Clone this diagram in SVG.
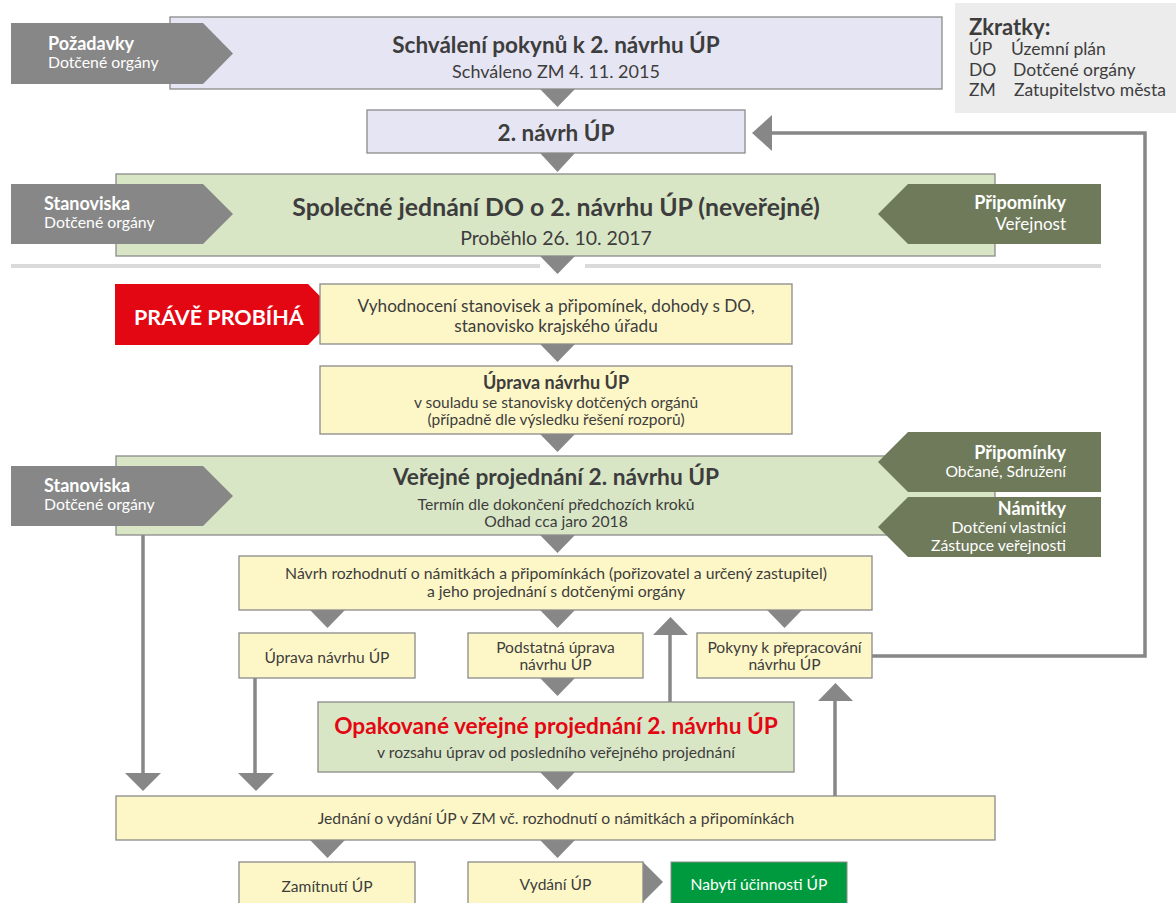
<svg xmlns="http://www.w3.org/2000/svg" width="1176" height="903" viewBox="0 0 1176 903">
<style>
text{font-family:Lato,"Open Sans","Liberation Sans",sans-serif;fill:#3d3d3d}
.c{text-anchor:middle}
.b{font-weight:bold}
.lav{fill:#e6e5f3;stroke:#8a8a8a;stroke-width:1.3}
.grn{fill:#d9e6c6;stroke:#8a8a8a;stroke-width:1.3}
.yel{fill:#fdf7c7;stroke:#8a8a8a;stroke-width:1.3}
.gr{fill:#878787}
.dg{fill:#6f7a5b}
.line{stroke:#878787;stroke-width:3.5;fill:none}
.wt{fill:#ffffff}
.r{text-anchor:end}
</style>
<rect width="1176" height="903" fill="#ffffff"/>

<g id="legend">
<rect x="955" y="3" width="221" height="110" fill="#ececec"/>
<text x="969" y="35" font-size="22" class="b">Zkratky:</text>
<text x="969" y="55" font-size="17.5">ÚP</text><text x="1011" y="55" font-size="17.5">Územní plán</text>
<text x="969" y="76" font-size="17.5">DO</text><text x="1013" y="76" font-size="17.5">Dotčené orgány</text>
<text x="969" y="96" font-size="17.5">ZM</text><text x="1014" y="96" font-size="17.5">Zatupitelstvo města</text>
</g>

<g id="separator">
<rect x="11" y="264" width="529" height="4" fill="#dadada"/>
<rect x="585" y="264" width="516" height="4" fill="#dadada"/>
</g>

<g id="connectors">
<polygon class="gr" points="540,89 575,89 557.5,107"/>
<polygon class="gr" points="540,153 575,153 557.5,172"/>
<polygon class="gr" points="540,256 575,256 557.5,274"/>
<polygon class="gr" points="540,344 575,344 557.5,362"/>
<polygon class="gr" points="540,434 575,434 557.5,452"/>
<polygon class="gr" points="540,535 575,535 557.5,553"/>
<polygon class="gr" points="310,610 345,610 327.5,628"/>
<polygon class="gr" points="540,610 575,610 557.5,628"/>
<polygon class="gr" points="767,610 802,610 784.5,628"/>
<polygon class="gr" points="540,678 575,678 557.5,696"/>
<polygon class="gr" points="540,772 575,772 557.5,790"/>
<polygon class="gr" points="310,840 345,840 327.5,858"/>
<polygon class="gr" points="540,840 575,840 557.5,858"/>
<polygon class="gr" points="643,862 663,882 643,902"/>
<polyline class="line" points="872,656 1145,656 1145,133 771,133"/>
<polygon class="gr" points="772,115 772,151 752,133"/>
<line class="line" x1="143" y1="535" x2="143" y2="775"/>
<polygon class="gr" points="125,773 161,773 143,791"/>
<line class="line" x1="255" y1="678" x2="255" y2="775"/>
<polygon class="gr" points="238,773 274,773 256,791"/>
<line class="line" x1="670" y1="634" x2="670" y2="702"/>
<polygon class="gr" points="653,635 688,635 670.5,617"/>
<line class="line" x1="835" y1="700" x2="835" y2="796"/>
<polygon class="gr" points="818,701 853,701 835.5,683"/>
</g>

<g id="n-schvaleni">
<rect class="lav" x="170" y="17" width="772" height="72"/>
<text class="c b" x="556" y="53" font-size="22.5">Schválení pokynů k 2. návrhu ÚP</text>
<text class="c" x="556" y="78" font-size="18">Schváleno ZM 4. 11. 2015</text>
</g>
<g id="n-pozadavky">
<polygon class="gr" points="11,23 203,23 233,53.5 203,84 11,84"/>
<text x="48" y="50" font-size="18" class="b wt">Požadavky</text>
<text x="48" y="68" font-size="15.8" class="wt">Dotčené orgány</text>
</g>

<g id="n-navrh2">
<rect class="lav" x="367" y="110" width="378" height="43"/>
<text class="c b" x="556" y="141" font-size="22.5">2. návrh ÚP</text>
</g>

<g id="n-spolecne">
<rect class="grn" x="116" y="174" width="879" height="82"/>
<text class="c b" x="556" y="216" font-size="24.8">Společné jednání DO o 2. návrhu ÚP (neveřejné)</text>
<text class="c" x="556" y="245" font-size="19.5">Proběhlo 26. 10. 2017</text>
</g>
<g id="n-stanoviska1">
<polygon class="gr" points="11,184 203,184 233,214 203,244 11,244"/>
<text x="44" y="210" font-size="18" class="b wt">Stanoviska</text>
<text x="44" y="228" font-size="15.8" class="wt">Dotčené orgány</text>
</g>
<g id="n-pripominky1">
<polygon class="dg" points="1101,184 908,184 878,214 908,244 1101,244"/>
<text x="1066" y="209" font-size="18" class="b wt r">Připomínky</text>
<text x="1066" y="230" font-size="17" class="wt r">Veřejnost</text>
</g>

<g id="n-prave">
<polygon points="115,284 308,284 338,314.5 308,345 115,345" fill="#e30613"/>
<text x="134" y="325" font-size="21.5" class="b wt">PRÁVĚ PROBÍHÁ</text>
</g>
<g id="n-vyhodnoceni">
<rect class="yel" x="320" y="284" width="472" height="60"/>
<text class="c" x="556" y="312" font-size="17.2">Vyhodnocení stanovisek a připomínek, dohody s DO,</text>
<text class="c" x="556" y="332" font-size="17.2">stanovisko krajského úřadu</text>
</g>

<g id="n-uprava1">
<rect class="yel" x="320" y="366" width="472" height="68"/>
<text class="c b" x="556" y="389" font-size="18">Úprava návrhu ÚP</text>
<text class="c" x="556" y="408" font-size="15.5">v souladu se stanovisky dotčených orgánů</text>
<text class="c" x="556" y="425" font-size="15.5">(případně dle výsledku řešení rozporů)</text>
</g>

<g id="n-verejne">
<rect class="grn" x="116" y="456" width="879" height="79"/>
<text class="c b" x="556" y="485" font-size="22.7">Veřejné projednání 2. návrhu ÚP</text>
<text class="c" x="556" y="510" font-size="15.7">Termín dle dokončení předchozích kroků</text>
<text class="c" x="556" y="527" font-size="15.7">Odhad cca jaro 2018</text>
</g>
<g id="n-stanoviska2">
<polygon class="gr" points="11,466 203,466 233,496 203,526 11,526"/>
<text x="44" y="492" font-size="18" class="b wt">Stanoviska</text>
<text x="44" y="510" font-size="15.8" class="wt">Dotčené orgány</text>
</g>
<g id="n-pripominky2">
<polygon class="dg" points="1101,432 908,432 878,462 908,492 1101,492"/>
<text x="1066" y="459" font-size="18" class="b wt r">Připomínky</text>
<text x="1066" y="477" font-size="15.7" class="wt r">Občané, Sdružení</text>
</g>
<g id="n-namitky">
<polygon class="dg" points="1101,497 908,497 878,527 908,557 1101,557"/>
<text x="1066" y="515" font-size="18" class="b wt r">Námitky</text>
<text x="1066" y="533" font-size="15.8" class="wt r">Dotčení vlastníci</text>
<text x="1066" y="551" font-size="15.8" class="wt r">Zástupce veřejnosti</text>
</g>

<g id="n-navrhrozhodnuti">
<rect class="yel" x="239" y="556" width="633" height="54"/>
<text class="c" x="556" y="579" font-size="15.8">Návrh rozhodnutí o námitkách a připomínkách (pořizovatel a určený zastupitel)</text>
<text class="c" x="556" y="597" font-size="15.8">a jeho projednání s dotčenými orgány</text>
</g>

<g id="n-uprava2">
<rect class="yel" x="239" y="633" width="176" height="45"/>
<text class="c" x="327" y="663" font-size="15.6">Úprava návrhu ÚP</text>
</g>
<g id="n-podstatna">
<rect class="yel" x="468" y="633" width="175" height="45"/>
<text class="c" x="555.5" y="653" font-size="15.6">Podstatná úprava</text>
<text class="c" x="555.5" y="670" font-size="15.6">návrhu ÚP</text>
</g>
<g id="n-pokyny">
<rect class="yel" x="697" y="633" width="175" height="45"/>
<text class="c" x="784.5" y="653" font-size="15.6">Pokyny k přepracování</text>
<text class="c" x="784.5" y="670" font-size="15.6">návrhu ÚP</text>
</g>

<g id="n-opakovane">
<rect class="grn" x="318" y="702" width="476" height="70"/>
<text class="c b" x="556" y="734" font-size="22.7" style="fill:#e30613">Opakované veřejné projednání 2. návrhu ÚP</text>
<text class="c" x="556" y="758" font-size="15.7">v rozsahu úprav od posledního veřejného projednání</text>
</g>

<g id="n-jednani">
<rect class="yel" x="116" y="796" width="879" height="44"/>
<text class="c" x="556" y="824" font-size="15.7">Jednání o vydání ÚP v ZM vč. rozhodnutí o námitkách a připomínkách</text>
</g>

<g id="n-zamitnuti">
<rect class="yel" x="239" y="862" width="176" height="46"/>
<text class="c" x="327" y="892" font-size="15.6">Zamítnutí ÚP</text>
</g>
<g id="n-vydani">
<rect class="yel" x="468" y="862" width="175" height="46"/>
<text class="c" x="555.5" y="890" font-size="15.6">Vydání ÚP</text>
</g>
<g id="n-nabyti">
<rect x="671" y="862" width="176" height="46" fill="#009a3e" stroke="#8a8a8a" stroke-width="1"/>
<text class="c wt" x="759" y="890" font-size="15.6">Nabytí účinnosti ÚP</text>
</g>
</svg>
